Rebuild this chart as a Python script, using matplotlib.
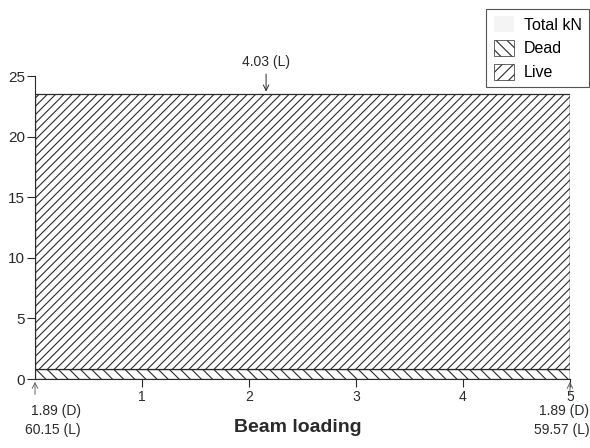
import matplotlib
matplotlib.use("Agg")
import matplotlib.pyplot as plt
from matplotlib.patches import Patch

plt.rcParams['font.family'] = ['Liberation Sans', 'DejaVu Sans']
plt.rcParams['hatch.linewidth'] = 0.8

# beam data (kN/m, m, kN)
span = [0, 5]
dead_udl = 0.8
live_udl = 22.7
point_x = 2.16
point_label = "4.03 (L)"
react_left = ["1.89 (D)", "60.15 (L)"]
react_right = ["1.89 (D)", "59.57 (L)"]
xticks = [1, 2, 3, 4, 5]
yticks = [0, 5, 10, 15, 20, 25]

ink = '#2a2a2a'

fig = plt.figure(figsize=(5.9, 4.48), dpi=100)
ax = fig.add_axes([0.0593, 0.154, 0.9067, 0.676])

# stacked uniform loads
ax.fill_between(span, 0, dead_udl, facecolor='white', edgecolor=ink,
                hatch='\\\\\\', linewidth=0.9)
ax.fill_between(span, dead_udl, dead_udl + live_udl, facecolor='white',
                edgecolor=ink, hatch='////', linewidth=0.9)
ax.plot([span[1], span[1]], [0, dead_udl + live_udl], color=ink, lw=0.9)

ax.set_xlim(0, 5)
ax.set_ylim(0, 25)
for s in ['top', 'right']:
    ax.spines[s].set_visible(False)
ax.spines['left'].set_color(ink)
ax.spines['bottom'].set_color(ink)
ax.set_xticks(xticks)
ax.set_yticks(yticks)
ax.tick_params(axis='y', direction='out', length=6, labelsize=11, colors=ink, pad=1)
ax.tick_params(axis='x', direction='out', length=6, labelsize=10, colors=ink, pad=2)

# point load
top = dead_udl + live_udl
ax.annotate('', xy=(point_x, top), xytext=(point_x, top + 1.9),
            arrowprops=dict(arrowstyle='->', color=ink, lw=0.7), annotation_clip=False)
ax.text(point_x, top + 2.1, point_label, ha='center', va='bottom', fontsize=10, color=ink)

# reactions
for x, lab, tx in [(0, react_left, 0.43), (5, react_right, 5.18)]:
    ax.annotate('', xy=(x, 0), xytext=(x, -1.5),
                arrowprops=dict(arrowstyle='->', color='#666666', lw=0.7),
                annotation_clip=False)
    ax.text(tx, -2.1, lab[0], ha='right', va='top', fontsize=10, color=ink, clip_on=False)
    ax.text(tx, -3.6, lab[1], ha='right', va='top', fontsize=10, color=ink, clip_on=False)

fig.text(0.505, 0.045, "Beam loading", ha='center', va='center', fontsize=14,
         fontweight='bold', color=ink)

handles = [Patch(facecolor='#f4f4f4', edgecolor='none', label='Total kN'),
           Patch(facecolor='white', edgecolor=ink, hatch='\\\\\\', lw=0.5, label='Dead'),
           Patch(facecolor='white', edgecolor=ink, hatch='///', lw=0.5, label='Live')]
leg = fig.legend(handles=handles, loc='upper right', bbox_to_anchor=(1.012, 0.998),
                 fontsize=11.5, frameon=True, fancybox=False, handlelength=1.3,
                 handleheight=1.2, labelspacing=0.45, borderpad=0.45, handletextpad=0.6)
leg.get_frame().set_edgecolor(ink)
leg.get_frame().set_linewidth(0.8)

fig.savefig('out.png', dpi=100)
